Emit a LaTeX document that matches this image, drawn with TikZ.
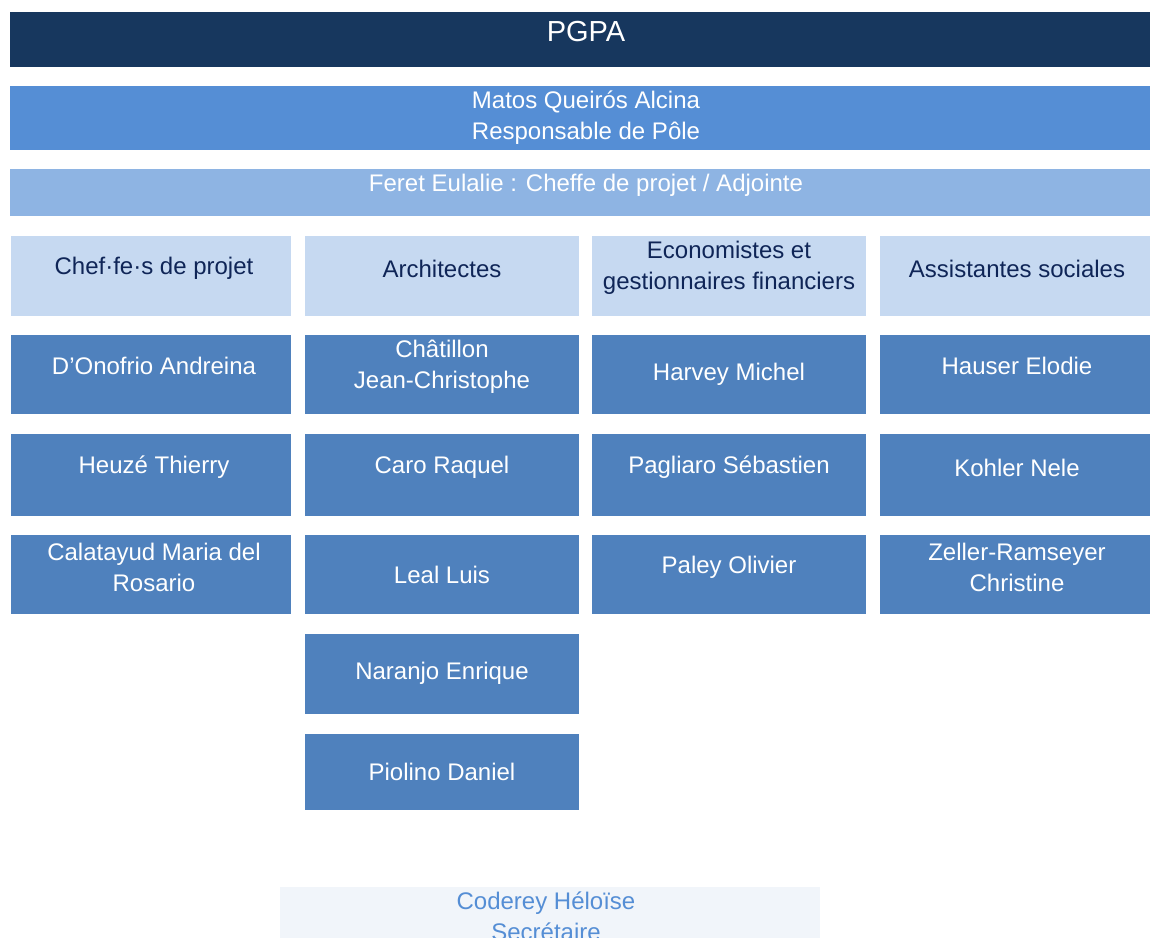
\documentclass[tikz,border=0pt]{standalone}
\usepackage{fontspec}
\setmainfont{Liberation Sans}
\definecolor{navy}{HTML}{17375E}
\definecolor{respblue}{HTML}{558ED5}
\definecolor{adjblue}{HTML}{8EB4E3}
\definecolor{headblue}{HTML}{C6D9F1}
\definecolor{headtext}{HTML}{0F2557}
\definecolor{persblue}{HTML}{4F81BD}
\definecolor{secfill}{HTML}{F1F5FA}
\tikzset{
  box/.style={rectangle, inner sep=0pt, outer sep=0pt, draw=none, anchor=north west},
  basetxt/.style={inner sep=0pt, align=center, yshift=-1.5pt, font=\fontsize{24}{31}\selectfont},
  pgpabox/.style={fill=navy},
  pgpatxt/.style={basetxt, text=white, xshift=6pt, font=\fontsize{29}{34}\selectfont},
  respbox/.style={fill=respblue},
  resptxt/.style={basetxt, text=white, xshift=6pt},
  adjbox/.style={fill=adjblue},
  adjtxt/.style={basetxt, text=white, xshift=6pt},
  headbox/.style={fill=headblue},
  headtxt/.style={basetxt, text=headtext},
  persbox/.style={fill=persblue},
  perstxt/.style={basetxt, text=white},
  secbox/.style={fill=secfill},
  sectxt/.style={basetxt, text=respblue, xshift=-4pt},
  colone/.style={xshift=3pt},
  colfour/.style={xshift=2pt},
}
% #1 name, #2 style prefix, #3 x1, #4 y1, #5 x2, #6 y2, #7 text y, #8 text, #9 extra text options
\newcommand\orgbox[9]{%
  \node[box, #2box, minimum width={(#5-#3)*1pt}, minimum height={(#6-#4)*1pt}] (#1) at (#3,#4) {};
  \node[#2txt, #9] (#1-t) at (#1.center |- 0,#7) {#8};}
\begin{document}
\begin{tikzpicture}[x=1pt, y=-1pt]
\useasboundingbox (0,0) rectangle (1150,937);
\clip (0,0) rectangle (1150,937);
% top bands
\orgbox{pgpa}{pgpa}{10}{12}{1150}{67}{30}{PGPA}{}
\orgbox{resp}{resp}{10}{86}{1150}{150}{116.5}{Matos Queirós Alcina\\Responsable de Pôle}{}
\orgbox{adj}{adj}{10}{169}{1150}{216}{184}{Feret Eulalie : Cheffe de projet / Adjointe}{}
% column headers
\orgbox{h1}{head}{11}{236}{291}{316}{267}{Chef·fe·s de projet}{colone}
\orgbox{h2}{head}{305}{236}{579}{316}{267}{Architectes}{}
\orgbox{h3}{head}{592}{236}{866}{316}{266.5}{Economistes et\\gestionnaires financiers}{}
\orgbox{h4}{head}{880}{236}{1150}{316}{267}{Assistantes sociales}{colfour}
% column 1
\orgbox{a1}{pers}{11}{335}{291}{414}{364}{D’Onofrio Andreina}{colone}
\orgbox{a2}{pers}{11}{434}{291}{516}{466}{Heuzé Thierry}{colone}
\orgbox{a3}{pers}{11}{535}{291}{614}{565.5}{Calatayud Maria del\\Rosario}{colone}
% column 2
\orgbox{b1}{pers}{305}{335}{579}{414}{365.5}{Châtillon\\Jean-Christophe}{}
\orgbox{b2}{pers}{305}{434}{579}{516}{466}{Caro Raquel}{}
\orgbox{b3}{pers}{305}{535}{579}{614}{573}{Leal Luis}{}
\orgbox{b4}{pers}{305}{634}{579}{714}{672}{Naranjo Enrique}{}
\orgbox{b5}{pers}{305}{734}{579}{810}{770}{Piolino Daniel}{}
% column 3
\orgbox{c1}{pers}{592}{335}{866}{414}{373}{Harvey Michel}{}
\orgbox{c2}{pers}{592}{434}{866}{516}{466}{Pagliaro Sébastien}{}
\orgbox{c3}{pers}{592}{535}{866}{614}{566}{Paley Olivier}{}
% column 4
\orgbox{d1}{pers}{880}{335}{1150}{414}{364}{Hauser Elodie}{colfour}
\orgbox{d2}{pers}{880}{434}{1150}{516}{466}{Kohler Nele}{colfour}
\orgbox{d3}{pers}{880}{535}{1150}{614}{565.5}{Zeller-Ramseyer\\Christine}{colfour}
% secretary
\orgbox{sec}{sec}{280}{887}{820}{960}{915}{Coderey Héloïse\\Secrétaire}{}
\end{tikzpicture}
\end{document}
